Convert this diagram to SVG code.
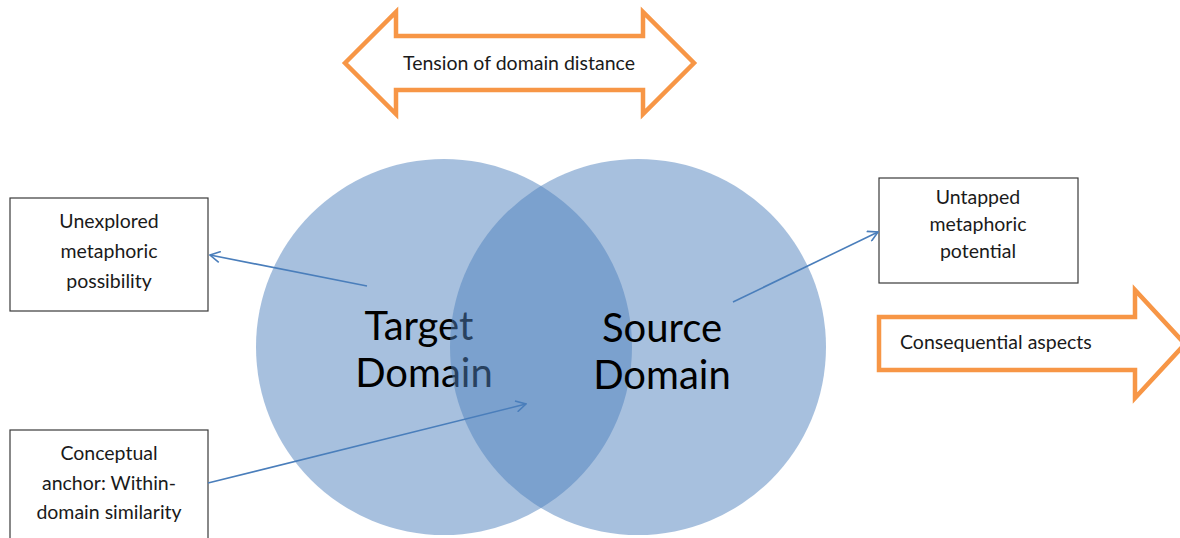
<svg xmlns="http://www.w3.org/2000/svg" width="1180" height="538" viewBox="0 0 1180 538">
  <defs>
    <style>
      .big { font-family: Lato, "Liberation Sans", sans-serif; font-size: 40px; fill: #000; text-anchor: middle; }
      .lbl { font-family: Lato, "Liberation Sans", sans-serif; font-size: 19.5px; fill: #1a1a1a; }
      .box { fill: #fff; stroke: #3a3a3a; stroke-width: 1.2; }
      .block { fill: #fff; stroke: #F79646; stroke-width: 4.5; stroke-linejoin: miter; }
      .circ { fill: #4F81BD; fill-opacity: 0.5; }
      .link { stroke: #4A7EBB; stroke-width: 1.6; fill: none; marker-end: url(#open); }
    </style>
    <marker id="open" viewBox="0 0 12 12" refX="11" refY="6" markerWidth="12" markerHeight="12" markerUnits="userSpaceOnUse" orient="auto">
      <path d="M1,0.5 L11,6 L1,11.5" fill="none" stroke="#4A7EBB" stroke-width="1.6"/>
    </marker>
  </defs>

  <!-- two overlapping domain circles -->
  <g id="target-domain">
    <circle class="circ" cx="444" cy="347" r="188"/>
    <text class="big" x="419" y="340">Target</text>
    <text class="big" x="424" y="387">Domain</text>
  </g>
  <g id="source-domain">
    <circle class="circ" cx="638" cy="347" r="188"/>
    <text class="big" x="662" y="342">Source</text>
    <text class="big" x="662" y="389">Domain</text>
  </g>

  <!-- block arrows -->
  <g id="tension">
    <polygon class="block" points="345,63 396,12 396,36 643,36 643,12 694,63 643,114 643,90 396,90 396,114"/>
    <text class="lbl" x="519" y="70" text-anchor="middle">Tension of domain distance</text>
  </g>
  <g id="consequential">
    <polygon class="block" points="879,317 1135,317 1135,290 1185,344 1135,398 1135,370 879,370"/>
    <text class="lbl" x="900" y="349">Consequential aspects</text>
  </g>

  <!-- label boxes -->
  <g id="unexplored">
    <rect class="box" x="10" y="198" width="198" height="113"/>
    <text class="lbl" text-anchor="middle"><tspan x="109" y="228">Unexplored</tspan><tspan x="109" y="258">metaphoric</tspan><tspan x="109" y="288">possibility</tspan></text>
  </g>
  <g id="anchor">
    <rect class="box" x="10" y="430" width="198" height="120"/>
    <text class="lbl" text-anchor="middle"><tspan x="109" y="460">Conceptual</tspan><tspan x="109" y="490">anchor: Within-</tspan><tspan x="109" y="519">domain similarity</tspan></text>
  </g>
  <g id="untapped">
    <rect class="box" x="879" y="178" width="199" height="105"/>
    <text class="lbl" text-anchor="middle"><tspan x="978" y="204">Untapped</tspan><tspan x="978" y="231">metaphoric</tspan><tspan x="978" y="258">potential</tspan></text>
  </g>

  <!-- connectors -->
  <g id="connectors">
    <line class="link" x1="367" y1="286" x2="210" y2="255"/>
    <line class="link" x1="208" y1="483" x2="526" y2="404"/>
    <line class="link" x1="733" y1="302" x2="878" y2="232"/>
  </g>
</svg>
